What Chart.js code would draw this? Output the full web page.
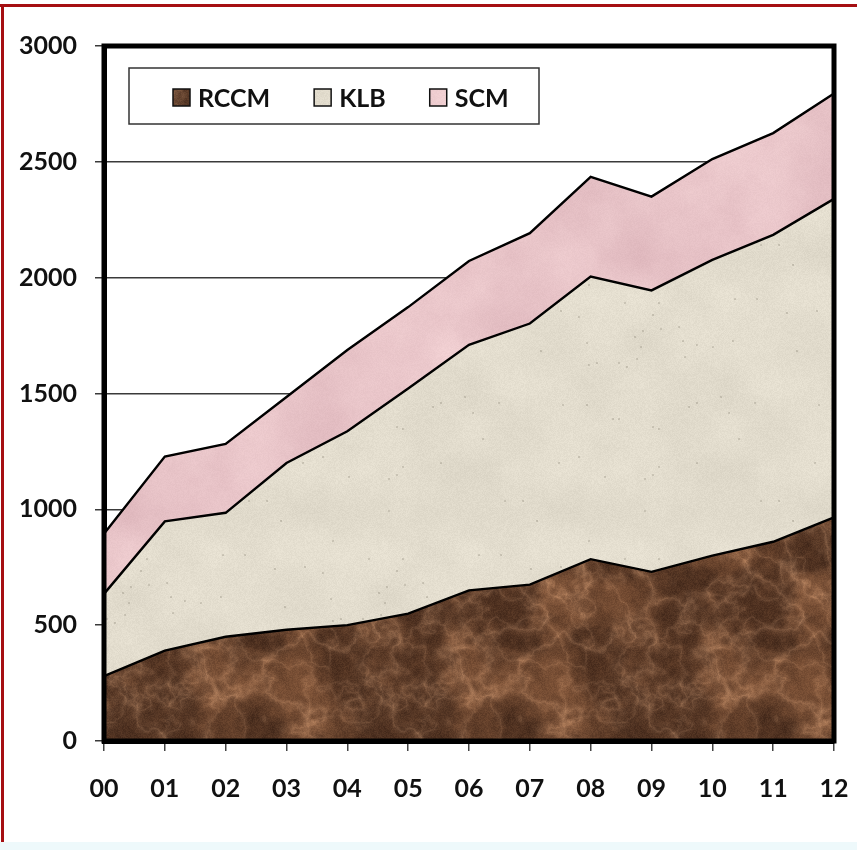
<!DOCTYPE html>
<html>
<head>
<meta charset="utf-8">
<title>RCCM / KLB / SCM</title>
<script src="https://cdn.jsdelivr.net/npm/chart.js@4.4.1/dist/chart.umd.min.js"></script>
<style>
  html, body { margin: 0; padding: 0; background: #ffffff; }
  #wrap { position: relative; width: 857px; height: 850px; overflow: hidden; }
  #frameTop { position: absolute; left: 0; top: 4px; width: 857px; height: 3px; background: #a50f12; }
  #frameLeft { position: absolute; left: 1px; top: 4px; width: 3px; height: 838px; background: #a50f12; }
  #foot { position: absolute; left: 0; top: 842px; width: 857px; height: 8px; background: #eef9fb; }
  #c { position: absolute; left: 0; top: 0; display: block; }
</style>
</head>
<body>
<div id="wrap">
  <div id="frameTop"></div>
  <div id="frameLeft"></div>
  <div id="foot"></div>
  <canvas id="c" width="857" height="850"></canvas>
</div>
<script>
// Years (two-digit labels along the x axis)
const years = ['00', '01', '02', '03', '04', '05', '06', '07', '08', '09', '10', '11', '12'];

// Stacked series values (each series is its own layer)
const rccm = [280, 390, 450, 480, 500, 550, 650, 675, 785, 730, 800, 860, 965];
const klb  = [355, 558, 535, 720, 837, 972, 1060, 1127, 1220, 1215, 1277, 1325, 1375];
const scm  = [260, 280, 297, 285, 351, 351, 362, 390, 430, 405, 435, 439, 455];

// Value axis range and step
const yMin = 0;
const yMax = 3000;
const yStep = 500;

const FONT = 'Lato, "Open Sans", "DejaVu Sans", sans-serif';

// ---- stone-like textures for the area fills ----
function hash(x, y, s) {
  let h = (Math.imul(x, 374761393) + Math.imul(y, 668265263) + Math.imul(s, 1442695041)) | 0;
  h = Math.imul(h ^ (h >>> 13), 1274126177);
  h = h ^ (h >>> 16);
  return (h >>> 0) / 4294967295;
}
function lattice(ix, iy, period, seed) {
  ix = ((ix % period) + period) % period;
  iy = ((iy % period) + period) % period;
  return hash(ix, iy, seed);
}
function vnoise(x, y, period, seed) {
  const x0 = Math.floor(x), y0 = Math.floor(y);
  const fx = x - x0, fy = y - y0;
  const u = fx * fx * (3 - 2 * fx), v = fy * fy * (3 - 2 * fy);
  const a = lattice(x0, y0, period, seed), b = lattice(x0 + 1, y0, period, seed);
  const c = lattice(x0, y0 + 1, period, seed), d = lattice(x0 + 1, y0 + 1, period, seed);
  return (a * (1 - u) + b * u) * (1 - v) + (c * (1 - u) + d * u) * v;
}
function fbm(px, py, size, cells, oct, seed) {
  let sum = 0, amp = 0.5, norm = 0;
  for (let o = 0; o < oct; o++) {
    sum += amp * vnoise(px / size * cells, py / size * cells, cells, seed + o * 17);
    norm += amp; amp *= 0.5; cells *= 2;
  }
  return sum / norm;
}
function clamp(v) { return Math.max(0, Math.min(255, Math.round(v))); }
function makeTexture(size, shade) {
  const cv = document.createElement('canvas');
  cv.width = cv.height = size;
  const g = cv.getContext('2d');
  const img = g.createImageData(size, size);
  for (let y = 0; y < size; y++) {
    for (let x = 0; x < size; x++) {
      const rgb = shade(x, y, size);
      const i = (y * size + x) * 4;
      img.data[i] = clamp(rgb[0]); img.data[i + 1] = clamp(rgb[1]); img.data[i + 2] = clamp(rgb[2]); img.data[i + 3] = 255;
    }
  }
  g.putImageData(img, 0, 0);
  return cv;
}
function smooth(a, b, t) { t = Math.max(0, Math.min(1, (t - a) / (b - a))); return t * t * (3 - 2 * t); }

// mottled brown marble with fine pale veining
const marbleBrown = makeTexture(256, (x, y, s) => {
  const n = fbm(x, y, s, 6, 5, 11);
  const fine = fbm(x, y, s, 32, 3, 91);
  const v1 = fbm(x, y, s, 5, 5, 29);
  const v2 = fbm(x, y, s, 8, 4, 63);
  const vein = 0.6 * Math.pow(1 - Math.abs(2 * v1 - 1), 12) + 0.4 * Math.pow(1 - Math.abs(2 * v2 - 1), 14);
  const g = hash(x, y, 7) - 0.5;
  const t = 0.65 * smooth(0.3, 0.75, n) + 0.35 * fine;
  return [
    66 + t * 62 + vein * 62 + g * 18,
    40 + t * 44 + vein * 52 + g * 14,
    26 + t * 30 + vein * 42 + g * 10
  ];
});
// pale sandstone with faint specks
const sandstone = makeTexture(256, (x, y, s) => {
  const n = fbm(x, y, s, 6, 4, 41) - 0.5;
  const g = hash(x, y, 3) - 0.5;
  const speck = hash(x >> 1, y >> 1, 77) > 0.996 ? -28 : 0;
  return [226 + n * 14 + g * 10 + speck, 220 + n * 14 + g * 10 + speck, 205 + n * 14 + g * 10 + speck];
});
// rose marble
const roseMarble = makeTexture(256, (x, y, s) => {
  const n = fbm(x, y, s, 4, 5, 53);
  const g = hash(x, y, 5) - 0.5;
  return [220 + n * 24 + g * 6, 180 + n * 32 + g * 6, 186 + n * 28 + g * 6];
});

const ctx = document.getElementById('c').getContext('2d');
const patBrown = ctx.createPattern(marbleBrown, 'repeat');
const patSand = ctx.createPattern(sandstone, 'repeat');
const patRose = ctx.createPattern(roseMarble, 'repeat');

// Legend drawn inside the plot, in a framed box near the top-left
const insideLegend = {
  id: 'insideLegend',
  afterDraw(chart) {
    const g = chart.ctx, area = chart.chartArea;
    const bx = area.left + 25, by = area.top + 22, bw = 410, bh = 56;
    g.save();
    g.fillStyle = '#ffffff';
    g.fillRect(bx, by, bw, bh);
    g.lineWidth = 1.5;
    g.strokeStyle = '#333333';
    g.strokeRect(bx, by, bw, bh);
    g.font = 'bold 25px ' + FONT;
    g.textBaseline = 'middle';
    let x = bx + 44;
    const cy = by + 29.5;
    chart.data.datasets.forEach(ds => {
      g.fillStyle = ds.backgroundColor;
      g.fillRect(x, cy - 8.5, 17, 17);
      g.lineWidth = 1.5;
      g.strokeStyle = '#111111';
      g.strokeRect(x, cy - 8.5, 17, 17);
      g.fillStyle = '#111111';
      g.fillText(ds.label, x + 25, cy + 1);
      x += 25 + g.measureText(ds.label).width + 44;
    });
    g.restore();
  }
};

// Heavy black frame around the plot area, over the fills
const plotFrame = {
  id: 'plotFrame',
  afterDatasetsDraw(chart) {
    const g = chart.ctx, a = chart.chartArea;
    g.save();
    g.lineWidth = 5;
    g.strokeStyle = '#000000';
    g.strokeRect(a.left, a.top, a.right - a.left, a.bottom - a.top);
    g.restore();
  }
};

new Chart(ctx, {
  type: 'line',
  data: {
    labels: years,
    datasets: [
      { label: 'RCCM', data: rccm, backgroundColor: patBrown, fill: 'origin' },
      { label: 'KLB',  data: klb,  backgroundColor: patSand,  fill: '-1' },
      { label: 'SCM',  data: scm,  backgroundColor: patRose,  fill: '-1' }
    ]
  },
  options: {
    responsive: false,
    animation: false,
    devicePixelRatio: 1,
    layout: { padding: { top: 46, right: 23, left: 0, bottom: 0 } },
    elements: {
      line: { borderColor: '#000000', borderWidth: 2.4, tension: 0, borderJoinStyle: 'miter' },
      point: { radius: 0, hoverRadius: 0 }
    },
    plugins: {
      legend: { display: false },
      tooltip: { enabled: false },
      filler: { propagate: false }
    },
    scales: {
      x: {
        offset: false,
        grid: { drawOnChartArea: false, drawTicks: true, tickLength: 10, color: '#444444', lineWidth: 1.5 },
        border: { display: true, color: '#000000', width: 5 },
        ticks: {
          font: { family: FONT, size: 25, weight: 'bold' },
          color: '#111111',
          padding: 23,
          maxRotation: 0,
          autoSkip: false
        },
        afterFit(scale) {
          scale.height = 109;
          scale.paddingLeft = 0;
          scale.paddingRight = 0;
        }
      },
      y: {
        stacked: true,
        min: yMin,
        max: yMax,
        grid: { color: '#3a3a3a', lineWidth: 1.5, tickLength: 9, drawTicks: true },
        border: { display: true, color: '#000000', width: 5 },
        ticks: {
          stepSize: yStep,
          font: { family: FONT, size: 25, weight: 'bold' },
          color: '#111111',
          padding: 18,
          callback: (v) => String(v)
        },
        afterFit(scale) { scale.width = 104; }
      }
    }
  },
  plugins: [plotFrame, insideLegend]
});
</script>
</body>
</html>
